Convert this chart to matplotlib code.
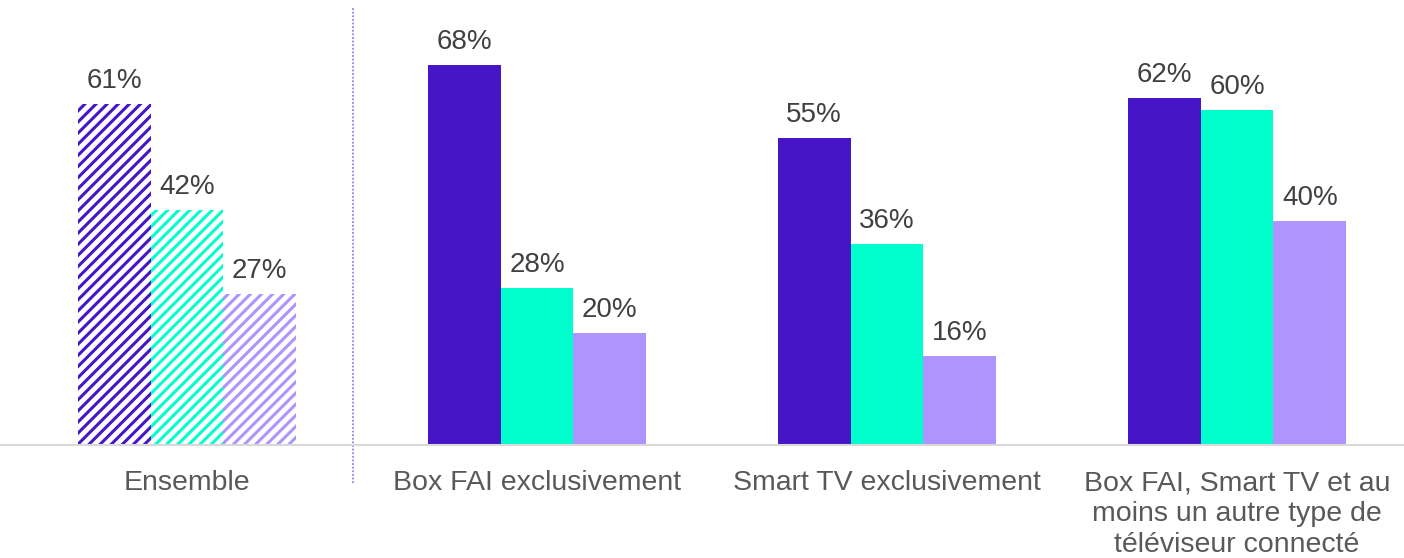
import matplotlib.pyplot as plt
import numpy as np

categories = ['Ensemble', 'Box FAI exclusivement', 'Smart TV exclusivement',
              'Box FAI, Smart TV et au\nmoins un autre type de\ntéléviseur connecté']
serie_1 = [61, 68, 55, 62]
serie_2 = [42, 28, 36, 60]
serie_3 = [27, 20, 16, 40]

couleurs = ['#4616C6', '#00FFCC', '#AF94FF']

plt.rcParams['font.family'] = ['Liberation Sans', 'DejaVu Sans']
plt.rcParams['hatch.linewidth'] = 2.2

fig = plt.figure(figsize=(14.04, 5.58), dpi=100)
ax = fig.add_axes([0, (558 - 445) / 558, 1, 445 / 558])

x = np.arange(len(categories))
w = 0.208
series = [serie_1, serie_2, serie_3]

for i, (vals, c) in enumerate(zip(series, couleurs)):
    pos = x + (i - 1) * w
    # premier groupe (Ensemble) hachuré
    ax.bar(pos[0], vals[0], w, facecolor='white', edgecolor=c, hatch='///', lw=0)
    ax.bar(pos[1:], vals[1:], w, color=c, lw=0)
    for p, v in zip(pos, vals):
        ax.annotate(f'{v}%', (p, v), xytext=(0, 11.5), textcoords='offset points',
                    ha='center', va='baseline', fontsize=20, color='#404040')

ax.set_xlim(-0.534, 3.477)
ax.set_ylim(0, 79.6)

# séparateur pointillé
ax.plot([0.474, 0.474], [-6.8, 78.4], ls=(0, (1, 1)), color='#9B7CF2', lw=1.3, clip_on=False)

ax.set_xticks(x)
ax.set_xticklabels(categories, fontsize=20.5, color='#595959', linespacing=1.26)
ax.tick_params(axis='x', length=0, pad=18)
ax.set_yticks([])
for s in ['top', 'right', 'left']:
    ax.spines[s].set_visible(False)
ax.spines['bottom'].set_color('#D9D9D9')
ax.spines['bottom'].set_linewidth(1.5)

fig.savefig('out.png', dpi=100)
